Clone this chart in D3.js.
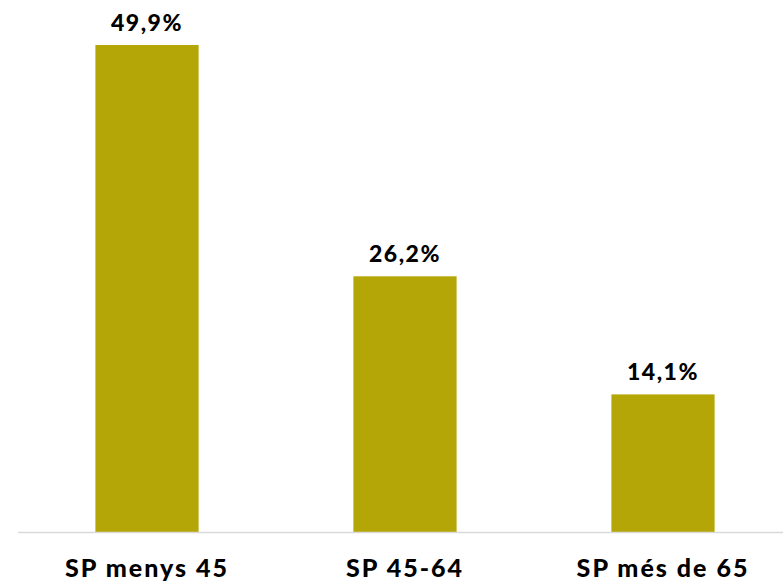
<!DOCTYPE html>
<html>
<head>
<meta charset="utf-8">
<script src="https://cdn.jsdelivr.net/npm/d3@7"></script>
<style>
  body { margin: 0; background: #fff; }
  svg text { font-family: Lato, "Open Sans", sans-serif; font-weight: 900; fill: #000; }
</style>
</head>
<body>
<svg id="chart" width="783" height="583"></svg>
<script>
// data
var categories = ["SP menys 45", "SP 45-64", "SP més de 65"];
var values = [49.9, 26.2, 14.1];

var svg = d3.select("#chart");
var baseY = 532;

var x = d3.scaleBand()
    .domain(categories)
    .range([18, 792])
    .paddingInner(0.6)
    .paddingOuter(0.3);

var y = d3.scaleLinear()
    .domain([0, 49.9])
    .range([baseY, 45]);

svg.selectAll("rect.bar")
    .data(values)
    .enter().append("rect")
      .attr("class", "bar")
      .attr("x", function(d, i) { return x(categories[i]); })
      .attr("y", function(d) { return y(d); })
      .attr("width", x.bandwidth())
      .attr("height", function(d) { return baseY - y(d); })
      .attr("fill", "#b5a607");

// baseline
svg.append("line")
    .attr("x1", 18).attr("x2", 783)
    .attr("y1", baseY + 0.5).attr("y2", baseY + 0.5)
    .attr("stroke", "#d9d9d9")
    .attr("stroke-width", 1.5);

// value labels
svg.selectAll("text.val")
    .data(values)
    .enter().append("text")
      .attr("class", "val")
      .attr("x", function(d, i) { return x(categories[i]) + x.bandwidth() / 2; })
      .attr("y", function(d) { return y(d) - 14; })
      .attr("text-anchor", "middle")
      .style("font-size", "23px")
      .style("letter-spacing", "1.5px")
      .text(function(d) { return d.toFixed(1).replace(".", ",") + "%"; });

// category labels
var xAxis = d3.axisBottom(x).tickSize(0).tickPadding(0);
var ax = svg.append("g")
    .attr("transform", "translate(0," + 577 + ")")
    .call(xAxis);
ax.select(".domain").remove();
ax.selectAll("text")
    .attr("y", 0)
    .attr("dy", 0)
    .style("font-size", "25px")
    .style("letter-spacing", "2px")
    .style("font-family", "Lato, sans-serif")
    .style("font-weight", "900");
</script>
</body>
</html>
